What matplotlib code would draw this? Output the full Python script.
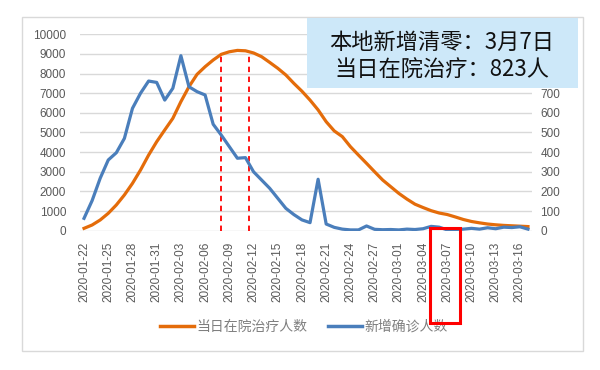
import numpy as np
import pandas as pd
import matplotlib
matplotlib.use("Agg")
import matplotlib.pyplot as plt
from matplotlib.patches import Rectangle
from matplotlib.lines import Line2D

plt.rcParams['font.family'] = ['Noto Sans CJK SC', 'DejaVu Sans']

dates = pd.date_range('2020-01-22', periods=56).strftime('%Y-%m-%d').tolist()

# 当日在院治疗人数 (left axis)
in_hospital = [120, 290, 545, 885, 1310, 1820, 2410, 3090, 3850, 4530,
               5130, 5720, 6570, 7330, 7960, 8350, 8690, 8980, 9110, 9180,
               9160, 9050, 8860, 8570, 8270, 7930, 7500, 7100, 6650, 6150,
               5550, 5080, 4790, 4280, 3850, 3430, 3000, 2580, 2240, 1900,
               1610, 1350, 1180, 1020, 900, 823, 700, 570, 470, 400,
               340, 300, 270, 250, 230, 210]
# 新增确诊人数 (right axis)
new_cases = [63, 153, 267, 360, 397, 470, 623, 700, 762, 755,
             665, 725, 891, 733, 708, 691, 542, 487, 428, 369,
             372, 300, 258, 216, 165, 114, 82, 55, 41, 262,
             34, 17, 8, 4, 4, 24, 7, 5, 6, 4,
             8, 6, 10, 22, 18, 4, 6, 8, 12, 8,
             15, 10, 18, 16, 20, 8]

left_ticks = list(range(0, 10001, 1000))
right_ticks = list(range(0, 1001, 100))
right_labels = [str(v) if v <= 700 else '' for v in right_ticks]  # rest hidden under the box
marked_days = [17, 20.4]
box_lines = ['本地新增清零：3月7日', '当日在院治疗：823人']
series_names = ['当日在院治疗人数', '新增确诊人数']

orange = '#E46C0A'
blue = '#4A7EBB'
grey_txt = '#595959'

fig = plt.figure(figsize=(6, 3.7), dpi=100)
fig.patches.append(Rectangle((22 / 600, 1 - 351 / 370), 561 / 600, 334 / 370,
                             transform=fig.transFigure, fill=False,
                             edgecolor='#D9D9D9', lw=1))

ax = fig.add_axes([80 / 600, 1 - 230.7 / 370, 452 / 600, 196.4 / 370])
ax2 = ax.twinx()
x = np.arange(len(dates))

ax.plot(x, in_hospital, color=orange, lw=2.3, zorder=3)
ax2.plot(x, new_cases, color=blue, lw=2.3, zorder=3)
ax.vlines(marked_days, 0, 8900, colors='#FF0000', linestyles=(0, (3, 2.5)), lw=1.3, zorder=4)

ax.set_xlim(-0.5, len(dates) - 0.5)
ax.set_ylim(0, 10000)
ax2.set_ylim(0, 1000)
ax.set_yticks(left_ticks)
ax2.set_yticks(right_ticks)
ax2.set_yticklabels(right_labels)
ax.grid(axis='y', color='#D9D9D9', lw=1)
ax.set_axisbelow(True)
for a in (ax, ax2):
    for s in a.spines.values():
        s.set_visible(False)
ax.set_xticks(x[::3])
ax.set_xticklabels(dates[::3], rotation=90, fontsize=8.5, color=grey_txt,
                   family=['Liberation Sans', 'DejaVu Sans'])
ax.tick_params(axis='x', length=0, pad=8)
ax.tick_params(axis='y', length=0, pad=10, labelsize=8.5, labelcolor=grey_txt)
ax2.tick_params(axis='y', length=0, pad=6, labelsize=8.5, labelcolor=grey_txt)
for lab in ax.get_yticklabels() + ax2.get_yticklabels():
    lab.set_family(['Liberation Sans', 'DejaVu Sans'])

# highlight box around the 03-07 label
fig.patches.append(Rectangle((430 / 600, 1 - 323 / 370), 30 / 600, 95 / 370,
                             transform=fig.transFigure, fill=False,
                             edgecolor='#FF0000', lw=2.2, zorder=10))

# info box
fig.patches.append(Rectangle((307 / 600, 1 - 88 / 370), 271 / 600, 70 / 370,
                             transform=fig.transFigure, facecolor='#CDE8F9',
                             edgecolor='none', zorder=10))
fig.text(442 / 600, 1 - 42 / 370, box_lines[0], ha='center', va='center',
         fontsize=16, color='#111111', zorder=11)
fig.text(442 / 600, 1 - 70 / 370, box_lines[1], ha='center', va='center',
         fontsize=16, color='#111111', zorder=11)

handles = [Line2D([], [], color=orange, lw=2.5), Line2D([], [], color=blue, lw=2.5)]
fig.legend(handles, series_names, loc='center', bbox_to_anchor=(304 / 600, 1 - 327 / 370),
           ncol=2, frameon=False, fontsize=10, labelcolor='#7F7F7F',
           handlelength=2.4, handletextpad=0.2, columnspacing=1.5)

plt.savefig('out.png', dpi=100)
